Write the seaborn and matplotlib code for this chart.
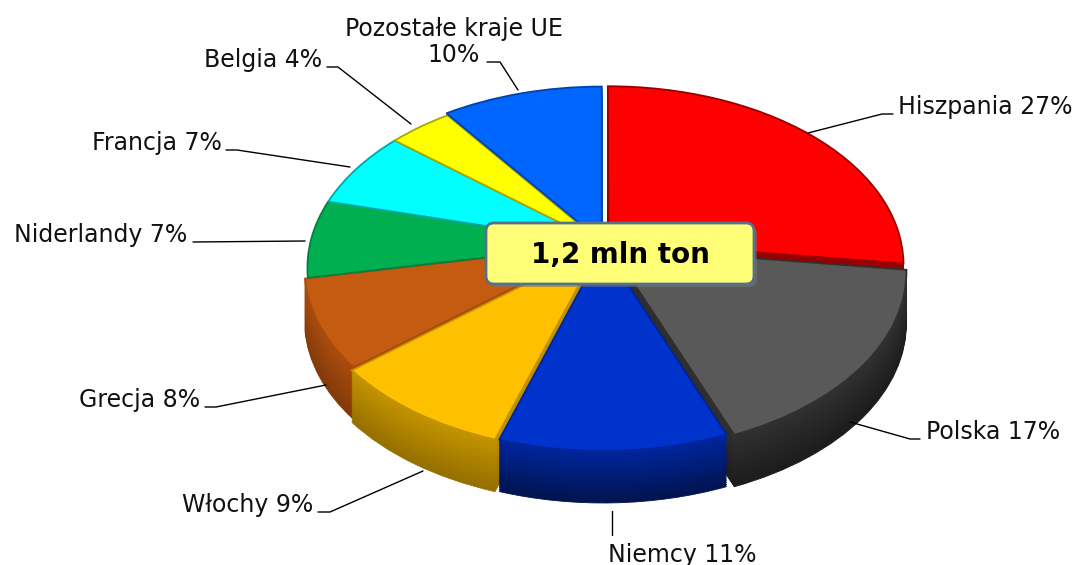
import numpy as np
import matplotlib
matplotlib.use("Agg")
import matplotlib.pyplot as plt
from matplotlib.patches import FancyBboxPatch
from matplotlib.transforms import Transform, Affine2D
import seaborn as sns

# --- data -------------------------------------------------------------
countries = ["Hiszpania", "Polska", "Niemcy", "Włochy", "Grecja",
             "Niderlandy", "Francja", "Belgia", "Pozostałe kraje UE"]
shares = [27, 17, 11, 9, 8, 7, 7, 4, 10]
total_label = "1,2 mln ton"

top_colors = ["#FF0000", "#595959", "#0033CC", "#FFC000", "#C55A11",
              "#00B050", "#00FFFF", "#FFFF00", "#0066FF"]
wall_light = ["#9A0000", "#303030", "#00259A", "#C29200", "#A84C0E",
              "#00803F", "#00A8A8", "#A8A800", "#0044AA"]
wall_dark = ["#660000", "#1C1C1C", "#00144F", "#957000", "#833A09",
             "#005A2C", "#007A7A", "#7A7A00", "#002E78"]
explode = [0.025, 0.03, 0.018, 0.022, 0.01, 0.0, 0.0, 0.0, 0.015]

# label layout (pixels): text x, text y, ha, leader polyline
label_layout = [
    (898, 114, "left", [(808, 133), (882, 114), (893, 114)]),
    (926, 439, "left", [(850, 422), (910, 439), (920, 439)]),
    (608, 562, "left", [(612, 511), (612, 535)]),
    (313, 512, "right", [(423, 471), (330, 512), (318, 512)]),
    (200, 407, "right", [(326, 385), (216, 407), (205, 407)]),
    (187, 242, "right", [(305, 241), (193, 242)]),
    (222, 150, "right", [(350, 167), (237, 150), (226, 150)]),
    (322, 67, "right", [(411, 124), (338, 67), (327, 67)]),
    (454, 62, "center", [(518, 90), (500, 62), (487, 62)]),
]

# --- geometry ---------------------------------------------------------
W, H = 1078, 565
X0, Y0 = 603, 244         # where the pie centre lands (pixels)
A, B = 293, 176           # horizontal / vertical scale of the disc
P = 0.132                 # perspective strength (far side shrinks)
depth_px = 52
n_layers = 28


class Tilt(Transform):
    """Simple perspective: points further back (y>0) get smaller."""
    input_dims = output_dims = 2
    is_separable = False
    has_inverse = False

    def __init__(self, p):
        super().__init__()
        self.p = p

    def transform_non_affine(self, values):
        v = np.asarray(values, dtype=float)
        d = 1.0 + self.p * v[:, 1]
        return np.column_stack([v[:, 0] / d, v[:, 1] / d])


sns.set_theme(style="white")
plt.rcParams["font.family"] = ["DejaVu Sans"]

fig = plt.figure(figsize=(W / 100, H / 100), dpi=100)
ax = fig.add_axes([0, 0, 1, 1])


def disc_transform(dy):
    return Tilt(P) + Affine2D().scale(A, -B).translate(X0, Y0 + dy) + ax.transData


# side walls: stacked copies of the pie, darker and shifted downwards
palettes = [sns.blend_palette([lo, hi], n_layers) for hi, lo in zip(wall_light, wall_dark)]
for i in range(n_layers, 0, -1):
    cols = [p[n_layers - i] for p in palettes]
    ws, _ = ax.pie(shares, radius=1, center=(0, 0), startangle=90,
                   counterclock=False, colors=cols, explode=explode,
                   wedgeprops=dict(linewidth=0.6))
    tr = disc_transform(depth_px * i / n_layers)
    for w, c in zip(ws, cols):
        w.set_edgecolor(c)
        w.set_transform(tr)

# top face
wedges, _ = ax.pie(shares, radius=1, center=(0, 0), startangle=90,
                   counterclock=False, colors=top_colors, explode=explode)
tr = disc_transform(0)
for w, ec in zip(wedges, wall_light):
    w.set_transform(tr)
    w.set_edgecolor(ec)
    w.set_linewidth(1.3)

ax.set_aspect("auto")
ax.set_xlim(0, W)
ax.set_ylim(H, 0)
ax.axis("off")

# --- labels with leader lines -----------------------------------------
for name, val, (tx, ty, ha, pts) in zip(countries, shares, label_layout):
    txt = f"{name}\n{val}%" if ha == "center" else f"{name} {val}%"
    xs, ys = zip(*pts)
    ax.plot(xs, ys, color="black", lw=1.0)
    ax.text(tx, ty, txt, ha=ha, va="baseline", fontsize=17,
            multialignment="center", linespacing=1.12, color="#111111")

# --- total box --------------------------------------------------------
ax.add_patch(FancyBboxPatch((489, 226), 268, 61,
                            boxstyle="round,pad=0,rounding_size=8",
                            fc="#777777", ec="none", alpha=0.5))
ax.add_patch(FancyBboxPatch((486, 223), 268, 61,
                            boxstyle="round,pad=0,rounding_size=8",
                            fc="#FFFF77", ec="#56718C", lw=2))
ax.text(620, 255, total_label, ha="center", va="center",
        fontsize=20, fontweight="bold", color="black")

fig.savefig("out.png", dpi=100)
